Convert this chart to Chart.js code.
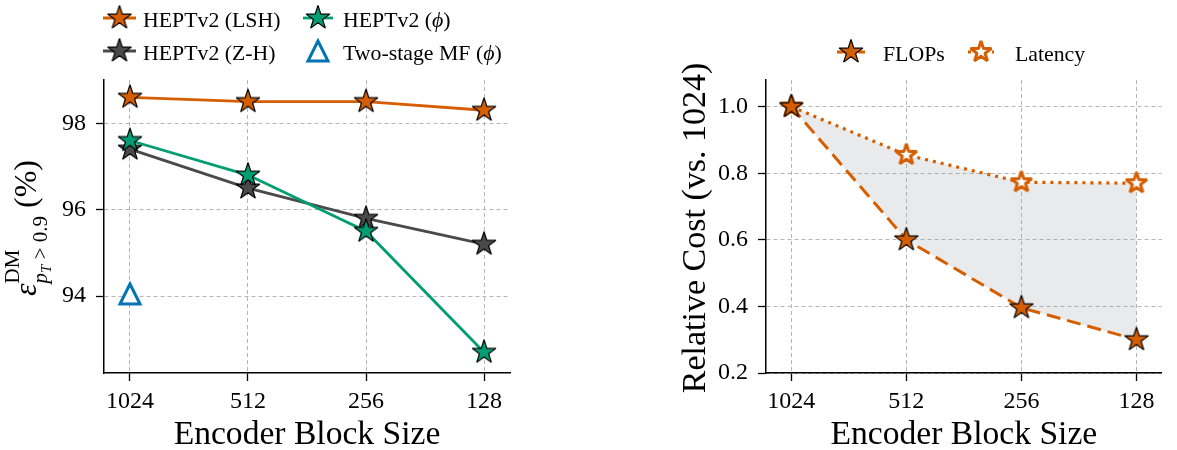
<!DOCTYPE html>
<html>
<head>
<meta charset="utf-8">
<script src="https://cdn.jsdelivr.net/npm/chart.js@4/dist/chart.umd.min.js"></script>
<style>
  html, body { margin: 0; padding: 0; background: #fff; }
  #wrap { position: relative; width: 1177px; height: 450px; }
  canvas { position: absolute; top: 0; }
  #left { left: 0; }
  #right { left: 600px; }
</style>
</head>
<body>
<div id="wrap">
  <canvas id="left" width="540" height="450"></canvas>
  <canvas id="right" width="577" height="450"></canvas>
</div>
<script>
// ---- data ----
const blockSizes = ['1024', '512', '256', '128'];
const lshEff = [98.6, 98.5, 98.5, 98.3];
const zhEff = [97.4, 96.5, 95.8, 95.2];
const phiEff = [97.6, 96.8, 95.5, 92.7];
const twoStageEff = [94.05];          // only measured at 1024
const effTicks = [94, 96, 98];
const flopsCost = [1.0, 0.6, 0.396, 0.3];
const latencyCost = [1.0, 0.855, 0.773, 0.77];
const costTicks = [0.2, 0.4, 0.6, 0.8, 1.0];

const SERIF = '"Liberation Serif", "DejaVu Serif", serif';
const ORANGE = '#d55e00', GRAY = '#4a4a4a', GREEN = '#029e73', BLUE = '#0173b2';

// matplotlib-like markers drawn once to small canvases
function star(fill, stroke, lw, R) {
  const s = Math.ceil(2 * R + 2 * lw + 4);
  const c = document.createElement('canvas'); c.width = c.height = s;
  const g = c.getContext('2d');
  g.beginPath();
  for (let k = 0; k < 10; k++) {
    const r = k % 2 ? R * 0.381966 : R, a = -Math.PI / 2 + k * Math.PI / 5;
    g.lineTo(s / 2 + r * Math.cos(a), s / 2 + r * Math.sin(a));
  }
  g.closePath();
  g.fillStyle = fill; g.fill();
  g.lineJoin = 'bevel'; g.lineWidth = lw; g.strokeStyle = stroke; g.stroke();
  return c;
}
function triangle(stroke, lw, h) {
  const s = Math.ceil(2 * h + 2 * lw + 4);
  const c = document.createElement('canvas'); c.width = c.height = s;
  const g = c.getContext('2d'), m = s / 2;
  g.beginPath(); g.moveTo(m, m - h); g.lineTo(m - h, m + h); g.lineTo(m + h, m + h); g.closePath();
  g.fillStyle = '#fff'; g.fill();
  g.lineJoin = 'miter'; g.lineWidth = lw; g.strokeStyle = stroke; g.stroke();
  return c;
}

const pts = (arr) => arr.map((y, i) => ({ x: i, y }));

function line(label, data, color, marker, order, extra) {
  return Object.assign({
    label, data: pts(data), borderColor: color, backgroundColor: color, borderWidth: 2.8,
    pointStyle: marker, pointRadius: 12, tension: 0, order, clip: false, fill: false
  }, extra || {});
}

// text with italic greek letters
function mixed(ctx, str, x, y, size) {
  const parts = str.split(/([\u0370-\u03FF]+)/);
  for (const p of parts) {
    if (!p) continue;
    ctx.font = (/[\u0370-\u03FF]/.test(p) ? 'italic ' : '') + size + 'px ' + SERIF;
    ctx.fillText(p, x, y);
    x += ctx.measureText(p).width;
  }
}

function drawLegend(ctx, chart, items) {
  items.forEach(it => {
    const ds = chart.data.datasets[it.i];
    if (ds.showLine !== false) {
      ctx.save();
      ctx.strokeStyle = ds.borderColor; ctx.lineWidth = ds.borderWidth;
      ctx.setLineDash(ds.borderDash || []);
      ctx.beginPath(); ctx.moveTo(it.x1, it.y); ctx.lineTo(it.x2, it.y); ctx.stroke();
      ctx.restore();
    }
    const img = ds.pointStyle;
    ctx.drawImage(img, (it.x1 + it.x2) / 2 - img.width / 2, it.y - img.height / 2);
    ctx.fillStyle = '#000'; ctx.textAlign = 'left'; ctx.textBaseline = 'alphabetic';
    mixed(ctx, ds.label, it.tx, it.y + 8.5, 21.8);
  });
}

// draws rotated runs: each run is a list of pieces {t, font, dy}; stacked runs share x
function drawRotated(ctx, runs, bx, cy) {
  ctx.save();
  ctx.translate(bx, cy); ctx.rotate(-Math.PI / 2);
  ctx.fillStyle = '#000'; ctx.textAlign = 'left'; ctx.textBaseline = 'alphabetic';
  const widthOf = (pieces) => pieces.reduce((w, p) => { ctx.font = p.font; return w + ctx.measureText(p.t).width; }, 0);
  const runW = runs.map(r => Math.max(...r.map(widthOf)));
  let x = -runW.reduce((a, b) => a + b, 0) / 2;
  runs.forEach((r, k) => {
    r.forEach(pieces => {
      let px = x;
      pieces.forEach(p => { ctx.font = p.font; ctx.fillText(p.t, px, p.dy || 0); px += ctx.measureText(p.t).width; });
    });
    x += runW[k];
  });
  ctx.restore();
}

function titlesPlugin(cfg) {
  return {
    id: 'titles',
    afterDraw(chart) {
      const ctx = chart.ctx, a = chart.chartArea;
      ctx.save();
      ctx.fillStyle = '#000'; ctx.textAlign = 'center'; ctx.textBaseline = 'alphabetic';
      ctx.font = '33.6px ' + SERIF;
      ctx.fillText('Encoder Block Size', (a.left + a.right) / 2, 444);
      drawRotated(ctx, cfg.yTitle, cfg.yTitleX, 228);
      drawLegend(ctx, chart, cfg.legend);
      ctx.restore();
    }
  };
}

function scales(ymin, ymax, yTicks, yFmt, yWidth) {
  const grid = { color: '#b5b5b5', lineWidth: 1, tickColor: '#000', tickLength: 8, tickWidth: 1.3, tickBorderDash: [] };
  const border = { display: true, color: '#000', width: 1.5, dash: [4, 3] };
  const font = { family: SERIF, size: 24 };
  return {
    x: {
      type: 'linear', min: -0.22, max: 3.22,
      afterBuildTicks: s => { s.ticks = blockSizes.map((_, i) => ({ value: i })); },
      afterFit: s => { s.height = 77; },
      ticks: { callback: v => blockSizes[v], font, color: '#000', padding: 6, maxRotation: 0, autoSkip: false },
      grid, border
    },
    y: {
      type: 'linear', min: ymin, max: ymax,
      afterBuildTicks: s => { s.ticks = yTicks.map(v => ({ value: v })); },
      afterFit: s => { s.width = yWidth; },
      ticks: { callback: yFmt, font, color: '#000', padding: 10 },
      grid, border
    }
  };
}

const common = (padRight) => ({
  responsive: false, animation: false, events: [],
  layout: { padding: { top: 80, left: 0, right: padRight, bottom: 0 } },
  plugins: { legend: { display: false }, tooltip: { enabled: false } }
});

// ---- left: efficiency ----
const starL = star(ORANGE, '#000', 1.2, 12.5);
const starZ = star(GRAY, '#000', 1.2, 12.5);
const starP = star(GREEN, '#000', 1.2, 12.5);
const triMF = triangle(BLUE, 3, 10);

const effScript = '21px ' + SERIF, effScriptI = 'italic 21px ' + SERIF;
new Chart(document.getElementById('left'), {
  type: 'line',
  data: {
    datasets: [
      line('HEPTv2 (LSH)', lshEff, ORANGE, starL, 4),
      line('HEPTv2 (Z-H)', zhEff, GRAY, starZ, 3),
      line('HEPTv2 (ϕ)', phiEff, GREEN, starP, 2),
      line('Two-stage MF (ϕ)', twoStageEff, BLUE, triMF, 1, { showLine: false })
    ]
  },
  options: Object.assign(common(30), {
    scales: scales(92.22, 99.0, effTicks, v => String(v), 104)
  }),
  plugins: [titlesPlugin({
    yTitleX: 36,
    yTitle: [
      [[{ t: 'ε', font: 'italic 32px ' + SERIF }]],
      [
        [{ t: 'DM', font: effScript, dy: -17 }],
        [{ t: 'p', font: effScriptI, dy: 11 }, { t: 'T', font: 'italic 15px ' + SERIF, dy: 15 }, { t: ' > 0.9', font: effScript, dy: 11 }]
      ],
      [[{ t: ' (%)', font: '32px ' + SERIF }]]
    ],
    legend: [
      { i: 0, x1: 103, x2: 136, y: 18, tx: 143 },
      { i: 1, x1: 103, x2: 136, y: 51, tx: 143 },
      { i: 2, x1: 303, x2: 333, y: 18, tx: 343 },
      { i: 3, x1: 303, x2: 333, y: 51, tx: 343 }
    ]
  })]
});

// ---- right: relative cost ----
const starF = star(ORANGE, '#000', 1.2, 12.5);
const starLat = star('#fff', ORANGE, 3, 11);

new Chart(document.getElementById('right'), {
  type: 'line',
  data: {
    datasets: [
      line('FLOPs', flopsCost, ORANGE, starF, 1, { borderWidth: 3, borderDash: [14, 7] }),
      line('Latency', latencyCost, ORANGE, starLat, 2, {
        borderWidth: 3.2, borderDash: [3, 5], fill: '-1', backgroundColor: 'rgba(150,158,170,0.22)'
      })
    ]
  },
  options: Object.assign(common(4), {
    scales: scales(0.2, 1.08, costTicks, v => v.toFixed(1), 166)
  }),
  plugins: [titlesPlugin({
    yTitleX: 105,
    yTitle: [[[{ t: 'Relative Cost (vs. 1024)', font: '34px ' + SERIF }]]],
    legend: [
      { i: 0, x1: 237, x2: 265, y: 52, tx: 283 },
      { i: 1, x1: 368, x2: 394, y: 52, tx: 415 }
    ]
  })]
});
</script>
</body>
</html>
